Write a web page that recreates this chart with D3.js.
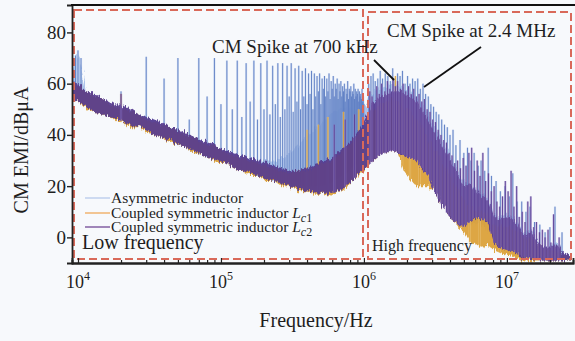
<!DOCTYPE html>
<html>
<head>
<meta charset="utf-8">
<script src="https://cdn.jsdelivr.net/npm/d3@7"></script>
<style>
  body { margin: 0; background: #f7f9fc; }
  svg { display: block; }
  text { font-family: "Liberation Serif", "Times New Roman", serif; fill: #1e1e1e; }
</style>
</head>
<body>
<svg id="chart" width="575" height="341"></svg>
<script>

// sample frequencies (Hz) of the noise floor bands
var freqHz = [9080, 10000, 11380, 12940, 14720, 16750, 19050, 21000, 23100, 26300,
  30000, 34000, 38650, 44000, 50000, 56900, 64700, 73600, 83700, 95200,
  108000, 123000, 140000, 160000, 181000, 206000, 235000, 267000, 304000, 345000,
  393000, 447000, 508000, 578000, 658000, 748000, 851000, 968000, 1067000, 1175000,
  1294000, 1425000, 1570000, 1729000, 1905000, 2098000, 2311000, 2546000, 2804000, 3089000,
  3400000, 3740000, 4120000, 4540000, 5000000, 5510000, 6070000, 6680000, 7360000, 8110000,
  8930000, 10160000, 11560000, 13150000, 14960000, 17020000, 19370000, 22030000, 25070000, 28520000]

// asymmetric inductor: floor band (dBuA)
var asymLo = [57, 56, 51, 50, 48, 47, 46, 45, 44, 43,
  42, 41, 39, 38, 36, 35, 33, 32, 31, 30,
  29, 28, 26, 25, 24, 23, 22, 21, 21, 20,
  20, 20, 20, 21, 23, 25, 28, 30, 32, 34,
  36, 37, 37, 36, 35, 33, 31, 28, 25, 22,
  18, 14, 10, 7, 5, 5, 6, 5, 3, -1,
  -3, -5, -6, -7, -7, -8, -8, -8, -9, -9]
var asymHi = [64, 72, 57, 55, 54, 52, 51, 51, 49, 48,
  47, 46, 44, 43, 42, 40, 39, 38, 36, 35,
  34, 33, 32, 31, 30, 30, 30, 31, 33, 36,
  39, 42, 45, 48, 50, 51, 50, 48, 54, 57,
  58, 59, 60, 59, 58, 57, 55, 52, 48, 44,
  40, 35, 31, 26, 22, 21, 19, 17, 15, 9,
  8, 9, 7, 2, 3, -3, -4, -2, -6, -8]

// coupled symmetric inductor Lc1
var lc1Lo = [55, 53, 50, 49, 48, 47, 45, 45, 43, 43,
  41, 40, 39, 37, 36, 35, 33, 32, 31, 29,
  29, 27, 26, 24, 24, 22, 22, 20, 20, 18,
  18, 17, 17, 16, 18, 19, 23, 25, 28, 30,
  32, 33, 34, 33, 26, 23, 20, 20, 20, 18,
  14, 10, 7, 4, 2, -2, -3, -4, -3, -5,
  -6, -7, -8, -9, -9, -9, -9, -9, -9, -9]
var lc1Hi = [61, 59, 57, 55, 54, 52, 51, 50, 49, 48,
  46, 45, 44, 43, 41, 40, 39, 37, 36, 35,
  33, 32, 31, 30, 29, 28, 27, 26, 25, 26,
  26, 27, 29, 30, 32, 35, 38, 42, 47, 50,
  52, 53, 54, 53, 51, 49, 46, 43, 39, 35,
  31, 27, 23, 19, 15, 12, 10, 10, 9, 5,
  4, 4, 3, 0, 0, -3, -5, -5, -7, -8]

// coupled symmetric inductor Lc2
var lc2Lo = [55, 53, 51, 49, 48, 47, 46, 45, 44, 43,
  42, 40, 39, 38, 36, 35, 34, 32, 31, 30,
  29, 27, 26, 25, 24, 23, 22, 21, 20, 19,
  18, 18, 17, 17, 18, 20, 23, 26, 28, 30,
  32, 33, 34, 33, 32, 31, 30, 27, 24, 18,
  14, 10, 7, 5, 4, 6, 8, 7, 6, -2,
  -4, -5, -6, -8, -8, -9, -9, -9, -9, -9]
var lc2Hi = [61, 60, 57, 56, 54, 53, 52, 51, 50, 48,
  47, 46, 45, 43, 42, 41, 39, 38, 37, 35,
  34, 33, 32, 31, 30, 29, 28, 27, 26, 26,
  27, 28, 30, 31, 33, 36, 39, 44, 49, 53,
  55, 56, 57, 57, 56, 55, 53, 50, 46, 41,
  37, 33, 29, 24, 20, 21, 18, 16, 14, 8,
  7, 8, 6, 1, 2, -3, -4, -3, -6, -8]

// spikes: frequency (kHz) and peak (dBuA)
var asymSpikeKHz = [9.6, 10, 10.5, 20, 30, 40, 50, 60, 70, 80, 90, 100,
  110, 120, 130, 140, 150, 160, 170, 180, 190, 200,
  210, 220, 230, 240, 250, 260, 270, 280, 290, 300,
  310, 320, 330, 340, 350, 360, 370, 380, 390, 400,
  410, 420, 430, 440, 450, 460, 470, 480, 490, 500,
  510, 520, 530, 540, 550, 560, 570, 580, 590, 600,
  610, 620, 630, 640, 650, 660, 670, 680, 690, 700,
  710, 720, 730, 740, 750, 760, 770, 780, 790, 800,
  810, 820, 830, 840, 850, 860, 870, 880, 890, 900,
  910, 920, 930, 940, 950, 960, 970, 980, 990, 1000,
  1080, 1120, 1160, 1200, 1250, 1300, 1350, 1410, 1470, 1530,
  1590, 1650, 1720, 1790, 1860, 1940, 2020, 2100, 2190, 2280,
  2380, 2480, 2590, 2700, 2820, 2940, 3070, 3200, 3340, 3500,
  3660, 3830, 4000, 4200, 4400, 4700, 5000, 5300, 5600, 5900,
  6300, 6600, 7000, 7400, 7800, 8400, 9000, 9700, 10400, 11000,
  11800, 12700, 13600, 14500, 15600, 17000, 18500, 20000, 21700, 24300]
var asymSpikeDb = [71, 73, 70, 57, 70.5, 62, 70, 46, 70, 55, 70, 52,
  69, 50, 69, 47, 68, 53, 69, 46, 68, 50,
  69, 48, 67, 52, 68, 47, 68, 50, 67, 55,
  68, 49, 66, 53, 67, 50, 65, 55, 66, 52,
  64, 56, 65, 50, 64, 55, 63, 57, 64, 52,
  62, 58, 63, 55, 62, 57, 64, 54, 61, 58,
  63, 55, 60, 58, 62, 54, 60, 57, 61, 55,
  59, 57, 60, 53, 58, 56, 61, 54, 58, 57,
  59, 55, 57, 56, 60, 54, 58, 55, 57, 56,
  58, 53, 57, 55, 56, 54, 58, 53, 55, 52,
  60, 63, 64, 61, 62, 65, 62, 64, 63, 61,
  66, 62, 64, 63, 65, 60, 63, 60, 62, 61,
  62, 58, 60, 56, 55, 52, 51, 49, 48, 46,
  44, 43, 40, 42, 36, 38, 33, 35, 30, 33,
  28, 30, 26, 35, 24, 22, 18, 20, 16, 25,
  14, 14, 10, 12, 6, 5, 2, 4, 12, 2]

var lc1SpikeKHz = [20, 400, 480, 560, 720, 920, 1660, 1850, 2100, 2450, 2900, 3400, 4120, 5500, 6450, 8900]
var lc1SpikeDb = [56, 42, 44, 47, 49, 50, 63, 55, 50, 45, 38, 32, 25, 20, 12, 5]

var lc2SpikeKHz = [20, 620, 740, 860, 1100, 1140, 1230, 1280, 1330, 1400, 1460, 1520, 1600, 1660,
  1720, 1800, 1880, 1960, 2050, 2140, 2230, 2330, 2430, 2540, 2650, 2770, 2900, 3030,
  3170, 3310, 3460, 3620, 3780, 3950, 4130, 4320, 4520, 4730, 4950, 5180, 5420, 5670,
  5930, 6200, 6490, 6790, 7100, 7430, 7780, 8140, 8510, 8910, 9320, 9750, 10200, 10700,
  11200, 11700, 12200, 12800, 13400, 14000, 14700, 15400, 16100, 16900, 17700, 18500, 19400, 20300,
  21200, 22200, 23200]
var lc2SpikeDb = [56, 44, 46, 48, 57, 55, 59, 56, 60, 57, 61, 58, 62, 59,
  61, 58, 60, 57, 59, 56, 58, 55, 56, 53, 54, 50, 49, 46,
  45, 42, 40, 38, 37, 33, 32, 29, 30, 27, 31, 28, 33, 35,
  26, 30, 24, 33, 22, 25, 18, 20, 14, 12, 16, 22, 18, 26,
  12, 20, 8, 10, 6, 14, 16, 4, 6, 2, 3, 0, 3, -2,
  9, -3, 0]

var yTicks = [0, 20, 40, 60, 80]
var xDecades = [4, 5, 6, 7]
var legendNames = ["Asymmetric inductor", "Coupled symmetric inductor ", "Coupled symmetric inductor "]
var legendSubs = [null, "1", "2"]


var svg = d3.select("#chart")

var x = d3.scaleLog().domain([9080, 2.9e7]).range([72, 573])
var y = d3.scaleLinear().domain([-10, 90.7]).range([263, 5])

var defs = svg.append("defs")
defs.append("clipPath").attr("id", "plot")
  .append("rect").attr("x", 72).attr("y", 5).attr("width", 503).attr("height", 258)

// fine grain on the band edges, like a measured spectrum
var rough = defs.append("filter").attr("id", "rough")
  .attr("x", "-2%").attr("y", "-10%").attr("width", "104%").attr("height", "120%")
rough.append("feTurbulence").attr("type", "fractalNoise")
  .attr("baseFrequency", "0.7 0.06").attr("numOctaves", 2).attr("seed", 4).attr("result", "n")
rough.append("feDisplacementMap").attr("in", "SourceGraphic").attr("in2", "n")
  .attr("scale", 8).attr("xChannelSelector", "R").attr("yChannelSelector", "G")

var plot = svg.append("g").attr("clip-path", "url(#plot)")

var series = [
  {lo: asymLo, hi: asymHi, sk: asymSpikeKHz, sd: asymSpikeDb, fill: "#9fb9e6", op: 0.85, spike: "#5a7bc2", halo: "#bccfee"},
  {lo: lc1Lo, hi: lc1Hi, sk: lc1SpikeKHz, sd: lc1SpikeDb, fill: "#dca23a", op: 0.95, spike: "#d9a13a", halo: "#efcf92"},
  {lo: lc2Lo, hi: lc2Hi, sk: lc2SpikeKHz, sd: lc2SpikeDb, fill: "#573b90", op: 0.92, spike: "#5a3d94", halo: "#9a86c6"}
]

series.forEach(function(s) {
  // noise floor band
  var band = d3.area()
    .x(function(d) { return x(d) })
    .y0(function(d, i) { return y(s.lo[i]) })
    .y1(function(d, i) { return y(s.hi[i]) })
  plot.append("path").datum(freqHz)
    .attr("d", band)
    .attr("filter", "url(#rough)")
    .style("fill", s.fill)
    .style("opacity", s.op)

  // spikes rise from the floor of the band
  var floorAt = d3.scaleLog().domain(freqHz).range(s.lo)
  var g = plot.append("g")
  g.selectAll(".halo").data(s.sk).enter().append("line")
    .attr("x1", function(d) { return x(d * 1000) })
    .attr("x2", function(d) { return x(d * 1000) })
    .attr("y1", function(d) { return y(floorAt(d * 1000)) })
    .attr("y2", function(d, i) { return y(s.sd[i]) })
    .style("stroke", s.halo).style("stroke-width", 2.2).style("opacity", 0.55)
  g.selectAll(".core").data(s.sk).enter().append("line")
    .attr("x1", function(d) { return x(d * 1000) })
    .attr("x2", function(d) { return x(d * 1000) })
    .attr("y1", function(d) { return y(floorAt(d * 1000)) })
    .attr("y2", function(d, i) { return y(s.sd[i]) })
    .style("stroke", s.spike).style("stroke-width", 1).style("opacity", 0.9)
})

// dashed region boxes
svg.append("rect").attr("x", 74).attr("y", 10).attr("width", 289).attr("height", 249)
  .style("fill", "none").style("stroke", "#d9695a").style("stroke-width", 2).style("stroke-dasharray", "8,4")
svg.append("rect").attr("x", 368).attr("y", 12).attr("width", 203).attr("height", 247)
  .style("fill", "none").style("stroke", "#d9695a").style("stroke-width", 2).style("stroke-dasharray", "8,4")

// axes
var minorTicks = []
xDecades.slice(0, 3).forEach(function(e) {
  for (var k = 2; k < 10; k++) minorTicks.push(k * Math.pow(10, e))
})
minorTicks.push(2e7)

svg.append("g").attr("transform", "translate(0,263)")
  .call(d3.axisBottom(x).tickValues(minorTicks).tickSize(-3).tickFormat(""))
svg.append("g").attr("transform", "translate(0,263)")
  .call(d3.axisBottom(x).tickValues(xDecades.map(function(e) { return Math.pow(10, e) })).tickSize(-5).tickFormat(""))
svg.selectAll(".domain").style("stroke", "#222").style("stroke-width", 1.8)
svg.selectAll(".tick line").style("stroke", "#222").style("stroke-width", 1.2)

var yAxis = svg.append("g").attr("transform", "translate(72,0)")
  .call(d3.axisLeft(y).tickValues(yTicks).tickSize(5).tickPadding(1))
yAxis.select(".domain").style("stroke", "#222").style("stroke-width", 1.8)
yAxis.selectAll(".tick line").style("stroke", "#222").style("stroke-width", 1.4)
yAxis.selectAll("text").style("font-size", "19px").style("font-family", "Liberation Serif, serif").style("fill", "#1e1e1e")

svg.append("line").attr("x1", 71).attr("x2", 575).attr("y1", 5).attr("y2", 5)
  .style("stroke", "#111").style("stroke-width", 2)

// decade labels
var xl = svg.selectAll(".xlab").data(xDecades).enter().append("text")
  .attr("x", function(d) { return x(Math.pow(10, d)) })
  .attr("y", 288)
  .attr("text-anchor", "middle")
  .style("font-size", "18px")
xl.append("tspan").text("10")
xl.append("tspan").attr("dy", -8).style("font-size", "12px").text(function(d) { return d })

svg.append("text").attr("x", 316).attr("y", 327).attr("text-anchor", "middle")
  .style("font-size", "20px").text("Frequency/Hz")
svg.append("text").attr("transform", "translate(28,150) rotate(-90)").attr("text-anchor", "middle")
  .style("font-size", "20px").text("CM EMI/dBμA")

// legend
var legendColor = ["#c2d3ee", "#f0b878", "#8a6aa8"]
legendNames.forEach(function(name, i) {
  var ly = [198, 213, 227][i]
  svg.append("line").attr("x1", 85).attr("x2", 110).attr("y1", ly).attr("y2", ly)
    .style("stroke", legendColor[i]).style("stroke-width", 1.6)
  var t = svg.append("text").attr("x", 111).attr("y", ly + 5).style("font-size", "15.5px")
  t.append("tspan").text(name)
  if (legendSubs[i]) {
    t.append("tspan").style("font-style", "italic").text("L")
    t.append("tspan").attr("dy", 4).style("font-size", "12px").style("font-style", "italic").text("c")
    t.append("tspan").style("font-size", "12px").text(legendSubs[i])
  }
})

svg.append("text").attr("x", 82).attr("y", 249).style("font-size", "20px").text("Low frequency")
svg.append("text").attr("x", 372).attr("y", 251).style("font-size", "16px").text("High frequency")

// annotations
svg.append("text").attr("x", 212).attr("y", 53).style("font-size", "19px").text("CM Spike at 700 kHz")
svg.append("text").attr("x", 387).attr("y", 37).style("font-size", "19px").text("CM Spike at 2.4 MHz")
svg.append("line").attr("x1", 374).attr("y1", 60).attr("x2", 394).attr("y2", 80)
  .style("stroke", "#111").style("stroke-width", 1.8)
svg.append("line").attr("x1", 481).attr("y1", 47).attr("x2", 424).attr("y2", 87)
  .style("stroke", "#111").style("stroke-width", 1.8)

</script>
</body>
</html>
